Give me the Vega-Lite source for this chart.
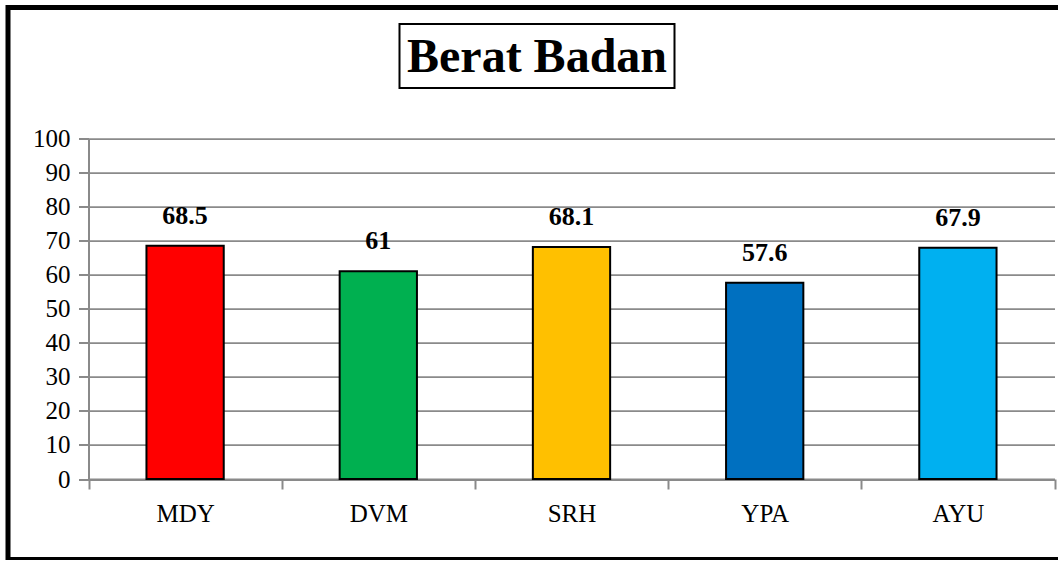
{
  "$schema": "https://vega.github.io/schema/vega-lite/v6.json",
  "width": 1058,
  "height": 552,
  "padding": {"left": 8, "top": 7.5, "right": 0, "bottom": 0},
  "background": "white",
  "view": {"stroke": "black", "strokeWidth": 5},
  "config": {"font": "Liberation Serif"},
  "data": {"values": [
    {"nama": "MDY", "berat": 68.5},
    {"nama": "DVM", "berat": 61},
    {"nama": "SRH", "berat": 68.1},
    {"nama": "YPA", "berat": 57.6},
    {"nama": "AYU", "berat": 67.9}
  ]},
  "layer": [
    {
      "mark": {"type": "bar", "width": {"band": 0.4}, "stroke": "black", "strokeWidth": 2},
      "encoding": {
        "x": {
          "field": "nama", "type": "nominal", "sort": null,
          "scale": {"paddingInner": 0, "paddingOuter": 0, "range": [80.5, 1046.5]},
          "axis": {
            "title": null, "labelAngle": 0, "tickBand": "extent", "tickSize": 10, "tickWidth": 2,
            "tickColor": "#8a8a8a", "domainColor": "#8a8a8a", "domainWidth": 2, "offset": -80.5,
            "labelFont": "Liberation Serif", "labelFontSize": 25, "labelColor": "black", "labelPadding": 12, "grid": false
          }
        },
        "y": {
          "field": "berat", "type": "quantitative",
          "scale": {"domain": [0, 100], "nice": false, "range": [471.5, 131]},
          "axis": {
            "title": null, "values": [0, 10, 20, 30, 40, 50, 60, 70, 80, 90, 100], "offset": -80.5,
            "tickSize": 10, "tickWidth": 2, "tickColor": "#8a8a8a",
            "domainColor": "#8a8a8a", "domainWidth": 2,
            "grid": true, "gridColor": "#8a8a8a", "gridWidth": 1.75,
            "labelFont": "Liberation Serif", "labelFontSize": 25, "labelColor": "black", "labelPadding": 8.5
          }
        },
        "color": {
          "field": "nama", "type": "nominal", "legend": null,
          "scale": {"domain": ["MDY", "DVM", "SRH", "YPA", "AYU"], "range": ["#FF0000", "#00B050", "#FFC000", "#0070C0", "#00B0F0"]}
        }
      }
    },
    {
      "mark": {"type": "text", "font": "Liberation Serif", "fontWeight": "bold", "fontSize": 26, "baseline": "alphabetic", "dy": -22, "color": "black"},
      "encoding": {
        "x": {"field": "nama", "type": "nominal", "sort": null},
        "y": {"field": "berat", "type": "quantitative"},
        "text": {"field": "berat", "type": "quantitative"}
      }
    },
    {
      "data": {"values": [{"judul": "Berat Badan"}]},
      "mark": {"type": "point", "shape": "M-1,-0.2327H1V0.2327H-1Z", "filled": false, "stroke": "black", "strokeWidth": 2, "size": 75625, "opacity": 1},
      "encoding": {
        "y": {"datum": 124.2, "type": "quantitative"}
      }
    },
    {
      "data": {"values": [{"judul": "Berat Badan"}]},
      "mark": {"type": "text", "font": "Liberation Serif", "fontWeight": "bold", "fontSize": 48, "baseline": "alphabetic", "align": "center", "dy": 16, "color": "black"},
      "encoding": {
        "y": {"datum": 124.2, "type": "quantitative"},
        "text": {"field": "judul"}
      }
    }
  ]
}
